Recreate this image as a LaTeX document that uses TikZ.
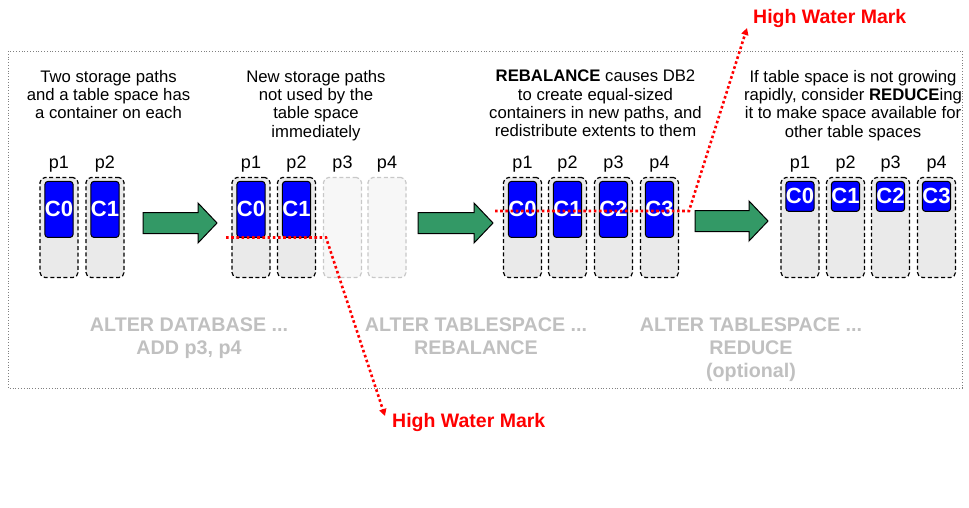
\documentclass[tikz,border=0pt]{standalone}
\usepackage{fontspec}
\setmainfont{Liberation Sans}
\usetikzlibrary{arrows.meta,calc}

\definecolor{slotfill}{RGB}{234,234,234}
\definecolor{idlefill}{RGB}{247,247,247}
\definecolor{idleline}{RGB}{200,200,200}
\definecolor{cmdgray}{RGB}{192,192,192}
\definecolor{stepgreen}{RGB}{51,153,102}
\definecolor{framegray}{RGB}{128,128,128}

\tikzset{
  slot/.style={draw=black, dash pattern=on 4pt off 2.6pt, line width=1.2pt,
    rounded corners=5pt, fill=slotfill, minimum width=38pt,
    minimum height=100pt, inner sep=0pt},
  idleslot/.style={slot, draw=idleline, fill=idlefill},
  cont/.style={draw=black, line width=1pt, rounded corners=3pt, fill=blue,
    minimum width=27pt, minimum height=56pt, inner sep=0pt, text=white,
    font=\fontsize{22}{22}\selectfont\bfseries},
  contshort/.style={cont, minimum height=30pt},
  plabel/.style={font=\fontsize{18}{18}\selectfont, inner sep=0pt},
  caption/.style={font=\fontsize{16.7}{18.3}\selectfont, align=center,
    inner sep=0pt, anchor=north},
  command/.style={font=\fontsize{19.7}{23}\selectfont\bfseries, text=cmdgray,
    align=center, inner sep=0pt, anchor=north},
  hwm/.style={font=\fontsize{19.5}{19.5}\selectfont\bfseries, text=red,
    inner sep=0pt},
  hwmline/.style={draw=red, line width=2.6pt, dash pattern=on 2.6pt off 2.6pt,
    -{Triangle[length=7pt,width=7pt]}},
  steparrow/.style={draw=black, line width=1pt, fill=stepgreen}
}

\begin{document}
\begin{tikzpicture}[x=1pt,y=-1pt]
\useasboundingbox (0,0) rectangle (969,508);
\fill[white] (0,0) rectangle (969,508);

% outer frame
\draw[framegray, line width=0.8pt, dotted] (8,51) rectangle (962,388);

% captions
\node[caption] (cap1) at (108.5,70) {Two storage paths\\and a table space has\\a container on each};
\node[caption] (cap2) at (316,70) {New storage paths\\not used by the\\table space\\immediately};
\node[caption] (cap3) at (595.5,70) {\textbf{REBALANCE} causes DB2\\to create equal-sized\\containers in new paths, and\\redistribute extents to them};
\node[caption] (cap4) at (853,70) {If table space is not growing\\rapidly, consider \textbf{REDUCE}ing\\it to make space available for\\other table spaces};

% group 1: two paths, one container each
\foreach \n/\x in {1/59,2/105}{
  \pgfmathtruncatemacro\c{\n-1}
  \node[slot] (a\n) at (\x,227.5) {};
  \node[plabel, anchor=base] (ap\n) at ([yshift=8.5pt]a\n.north) {p\n};
  \node[cont, anchor=north] (ac\n) at ([yshift=-4pt]a\n.north) {C\c};
}

% group 2: two new paths, not used yet
\foreach \n/\x in {1/251,2/296.5}{
  \pgfmathtruncatemacro\c{\n-1}
  \node[slot] (b\n) at (\x,227.5) {};
  \node[plabel, anchor=base] (bp\n) at ([yshift=8.5pt]b\n.north) {p\n};
  \node[cont, anchor=north] (bc\n) at ([yshift=-4pt]b\n.north) {C\c};
}
\foreach \n/\x in {3/342.5,4/387}{
  \node[idleslot] (b\n) at (\x,227.5) {};
  \node[plabel, anchor=base] (bp\n) at ([yshift=8.5pt]b\n.north) {p\n};
}

% group 3: rebalanced over four paths
\foreach \n/\x in {1/522.5,2/567.5,3/613.5,4/659.5}{
  \pgfmathtruncatemacro\c{\n-1}
  \node[slot] (c\n) at (\x,227.5) {};
  \node[plabel, anchor=base] (cp\n) at ([yshift=8.5pt]c\n.north) {p\n};
  \node[cont, anchor=north] (cc\n) at ([yshift=-4pt]c\n.north) {C\c};
}

% group 4: reduced containers
\foreach \n/\x in {1/800,2/845.5,3/890.5,4/936.5}{
  \pgfmathtruncatemacro\c{\n-1}
  \node[slot] (d\n) at (\x,227.5) {};
  \node[plabel, anchor=base] (dp\n) at ([yshift=8.5pt]d\n.north) {p\n};
  \node[contshort, anchor=north] (dc\n) at ([yshift=-4pt]d\n.north) {C\c};
}

% step arrows
\draw[steparrow] (143,212.5) -- (198,212.5) -- (198,203) -- (217,223)
  -- (198,243) -- (198,233.5) -- (143,233.5) -- cycle;
\draw[steparrow] (418,212.5) -- (474,212.5) -- (474,203) -- (493,223)
  -- (474,243) -- (474,233.5) -- (418,233.5) -- cycle;
\draw[steparrow] (695,210.5) -- (749,210.5) -- (749,201) -- (768,221)
  -- (749,241) -- (749,231.5) -- (695,231.5) -- cycle;

% commands
\node[command] (cmd1) at (189,317.5) {ALTER DATABASE ...\\ADD p3, p4};
\node[command] (cmd2) at (476,317.5) {ALTER TABLESPACE ...\\REBALANCE};
\node[command] (cmd3) at (751,317.5) {ALTER TABLESPACE ...\\REDUCE\\(optional)};

% high water marks
\node[hwm, anchor=base west] (hwmbot) at (392,427) {High Water Mark};
\node[hwm, anchor=base west] (hwmtop) at (753,24) {High Water Mark};

\coordinate (h2a) at (226,237.5);
\coordinate (h2b) at (326,237.5);
\draw[hwmline] (h2a) -- (h2b) -- ([xshift=-7pt,yshift=11pt]hwmbot.base west);

\coordinate (h3a) at (495,211);
\coordinate (h3b) at (689,211);
\draw[hwmline] (h3a) -- (h3b) -- ([xshift=-6pt,yshift=-4pt]hwmtop.base west);
\end{tikzpicture}
\end{document}
